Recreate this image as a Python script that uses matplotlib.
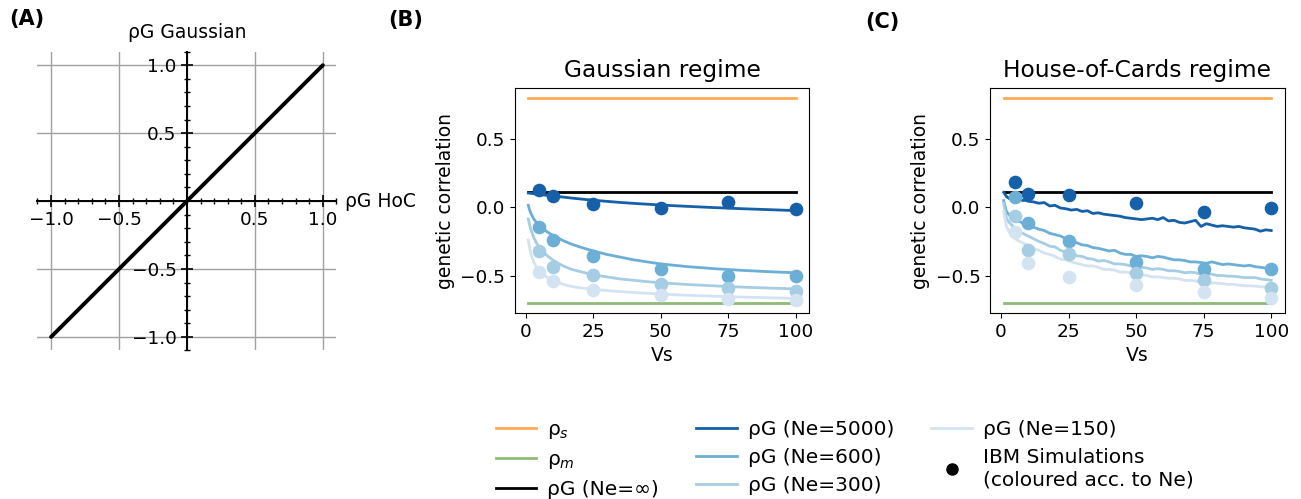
import matplotlib
matplotlib.use("Agg")
import matplotlib.pyplot as plt
from matplotlib.lines import Line2D
from matplotlib.ticker import MultipleLocator, FixedLocator

plt.rcParams['font.family'] = ['DejaVu Sans']

# ---------------- data ----------------
# Panel A
hoc_rho = [-1.0, 1.0]
gauss_rho = [-1.0, 1.0]

# Common
rho_s = 0.8
rho_m = -0.7
rho_inf = 0.11
ne_labels = ['5000', '600', '300', '150']

# IBM simulation points
sim_vs = [5, 10, 25, 50, 75, 100]
gauss_sim = {
    '5000': [0.127, 0.086, 0.025, -0.005, 0.04, -0.012],
    '600': [-0.142, -0.24, -0.355, -0.453, -0.502, -0.502],
    '300': [-0.319, -0.436, -0.493, -0.559, -0.59, -0.615],
    '150': [-0.473, -0.542, -0.603, -0.645, -0.669, -0.676],
}
hoc_sim = {
    '5000': [0.184, 0.098, 0.09, 0.034, -0.032, -0.007],
    '600': [0.073, -0.118, -0.245, -0.4, -0.449, -0.451],
    '300': [-0.061, -0.314, -0.343, -0.478, -0.534, -0.588],
    '150': [-0.184, -0.407, -0.512, -0.571, -0.62, -0.662],
}

# Gaussian regime analytic curves
gauss_vs = [1, 1.5, 2, 3, 4, 5, 6, 7, 8, 10, 12, 14, 17, 20, 25, 30, 35, 40,
            45, 50, 60, 70, 80, 90, 100]
gauss_curve = {
    '5000': [0.105, 0.104, 0.102, 0.1, 0.097, 0.095, 0.093, 0.09, 0.088, 0.083,
             0.079, 0.075, 0.068, 0.062, 0.052, 0.044, 0.036, 0.029, 0.023,
             0.017, 0.007, -0.002, -0.01, -0.017, -0.024],
    '600': [0.015, -0.02, -0.045, -0.085, -0.11, -0.13, -0.15, -0.165, -0.18,
            -0.205, -0.225, -0.245, -0.27, -0.29, -0.32, -0.345, -0.365,
            -0.385, -0.4, -0.415, -0.435, -0.45, -0.462, -0.472, -0.48],
    '300': [-0.085, -0.13, -0.165, -0.22, -0.26, -0.29, -0.315, -0.335, -0.355,
            -0.385, -0.41, -0.43, -0.455, -0.47, -0.495, -0.51, -0.525,
            -0.535, -0.545, -0.553, -0.566, -0.576, -0.585, -0.592, -0.598],
    '150': [-0.24, -0.3, -0.345, -0.4, -0.44, -0.465, -0.485, -0.5, -0.515,
            -0.535, -0.55, -0.565, -0.58, -0.59, -0.6, -0.61, -0.618, -0.625,
            -0.63, -0.636, -0.645, -0.652, -0.658, -0.663, -0.668],
}

# House-of-Cards regime curves (noisy)
hoc_vs = [1, 2, 3, 4, 5, 6, 7, 8, 9, 10] + list(range(12, 101, 2))
hoc_curve = {
    '5000': [0.11, 0.08, 0.065, 0.07, 0.06, 0.055, 0.06, 0.05, 0.052, 0.045,
             0.04, 0.03, 0.035, 0.01, 0.015, -0.005, -0.01, -0.02, -0.015, -0.03,
             -0.025, -0.045, -0.04, -0.05, -0.055, -0.06, -0.065, -0.075, -0.08, -0.085,
             -0.09, -0.085, -0.08, -0.09, -0.075, -0.1, -0.095, -0.11, -0.115, -0.105,
             -0.095, -0.14, -0.12, -0.13, -0.14, -0.135, -0.14, -0.145, -0.14, -0.15,
             -0.155, -0.16, -0.175, -0.165, -0.17],
    '600': [0.05, -0.03, -0.055, -0.07, -0.085, -0.1, -0.105, -0.115, -0.12, -0.13,
            -0.145, -0.16, -0.17, -0.19, -0.2, -0.21, -0.23, -0.25, -0.26, -0.275,
            -0.28, -0.295, -0.3, -0.31, -0.32, -0.315, -0.335, -0.345, -0.345, -0.36,
            -0.355, -0.36, -0.37, -0.36, -0.365, -0.375, -0.385, -0.385, -0.39, -0.4,
            -0.4, -0.405, -0.41, -0.4, -0.41, -0.42, -0.415, -0.42, -0.425, -0.43,
            -0.425, -0.435, -0.44, -0.445, -0.445],
    '300': [0.03, -0.08, -0.11, -0.13, -0.155, -0.17, -0.18, -0.19, -0.2, -0.21,
            -0.23, -0.25, -0.265, -0.285, -0.29, -0.315, -0.33, -0.335, -0.355, -0.36,
            -0.375, -0.38, -0.395, -0.39, -0.4, -0.415, -0.415, -0.42, -0.43, -0.435,
            -0.44, -0.445, -0.455, -0.45, -0.455, -0.465, -0.465, -0.47, -0.48, -0.475,
            -0.48, -0.49, -0.49, -0.49, -0.5, -0.5, -0.505, -0.505, -0.51, -0.515,
            -0.515, -0.515, -0.525, -0.53, -0.535],
    '150': [-0.03, -0.14, -0.18, -0.205, -0.225, -0.24, -0.25, -0.26, -0.27, -0.28,
            -0.3, -0.315, -0.335, -0.345, -0.36, -0.38, -0.385, -0.4, -0.41, -0.42,
            -0.43, -0.43, -0.44, -0.455, -0.455, -0.46, -0.475, -0.475, -0.48, -0.49,
            -0.495, -0.5, -0.51, -0.51, -0.515, -0.52, -0.52, -0.525, -0.535, -0.535,
            -0.54, -0.55, -0.55, -0.555, -0.555, -0.56, -0.565, -0.565, -0.57, -0.575,
            -0.575, -0.578, -0.582, -0.585, -0.59],
}

# ---------------- styles ----------------
c_orange = '#fdaa55'
c_green = '#8fbb76'
blues = {'5000': '#1560a8', '600': '#6baed6', '300': '#a5cde3', '150': '#d3e3f2'}

TICK_FS = 13.3
LABEL_FS = 13.5
TITLE_FS = 16.8
LEG_FS = 14.5

fig = plt.figure(figsize=(13.01, 4.99), dpi=100)

# ---------------- Panel A ----------------
axA = fig.add_axes([0.0288, 0.2976, 0.2298, 0.599])
axA.plot(hoc_rho, gauss_rho, color='black', lw=2.8, solid_capstyle='round', zorder=3)
axA.set_xlim(-1.1, 1.1)
axA.set_ylim(-1.1, 1.1)
axA.spines['left'].set_position(('data', 0))
axA.spines['bottom'].set_position(('data', 0))
axA.spines['right'].set_visible(False)
axA.spines['top'].set_visible(False)
for s in ('left', 'bottom'):
    axA.spines[s].set_linewidth(1.4)
major = [-1.0, -0.5, 0.0, 0.5, 1.0]
axA.xaxis.set_major_locator(FixedLocator(major))
axA.yaxis.set_major_locator(FixedLocator(major))
axA.xaxis.set_minor_locator(MultipleLocator(0.1))
axA.yaxis.set_minor_locator(MultipleLocator(0.1))
labsA = ['\u22121.0', '\u22120.5', '', '0.5', '1.0']
axA.set_xticklabels(labsA, fontsize=TICK_FS)
axA.set_yticklabels(labsA, fontsize=TICK_FS)
axA.tick_params(which='major', direction='inout', length=8, width=1.2)
axA.tick_params(which='minor', direction='inout', length=5, width=1.0)
axA.grid(True, which='major', color='#a0a0a0', lw=1.0)
axA.text(0, 1.24, '\u03c1G Gaussian', ha='center', va='center', fontsize=LABEL_FS)
axA.text(1.165, 0, '\u03c1G HoC', ha='left', va='center', fontsize=LABEL_FS)

# ---------------- Panels B & C ----------------
def regime_panel(ax, curves, cvs, sims, title):
    ax.plot([cvs[0], cvs[-1]], [rho_s, rho_s], color=c_orange, lw=2)
    ax.plot([cvs[0], cvs[-1]], [rho_m, rho_m], color=c_green, lw=2)
    ax.plot([cvs[0], cvs[-1]], [rho_inf, rho_inf], color='black', lw=2)
    for ne in ne_labels:
        ax.plot(cvs, curves[ne], color=blues[ne], lw=2)
    for ne in ne_labels:
        ax.plot(sim_vs, sims[ne], 'o', color=blues[ne], markersize=8.8, zorder=4)
    ax.set_title(title, fontsize=TITLE_FS, pad=8)
    ax.set_xlabel('Vs', fontsize=LABEL_FS)
    ax.set_ylabel('genetic correlation', fontsize=LABEL_FS)
    ax.set_xticks([0, 25, 50, 75, 100])
    ax.set_yticks([-0.5, 0.0, 0.5])
    ax.tick_params(labelsize=TICK_FS)

axB = fig.add_axes([0.3958, 0.3727, 0.2262, 0.4509])
regime_panel(axB, gauss_curve, gauss_vs, gauss_sim, 'Gaussian regime')
axC = fig.add_axes([0.7612, 0.3727, 0.2262, 0.4509])
regime_panel(axC, hoc_curve, hoc_vs, hoc_sim, 'House-of-Cards regime')

# ---------------- panel letters ----------------
fig.text(27 / 1301, 1 - 19 / 499, '(A)', fontsize=15, fontweight='bold', ha='center', va='center')
fig.text(406 / 1301, 1 - 20 / 499, '(B)', fontsize=15, fontweight='bold', ha='center', va='center')
fig.text(882 / 1301, 1 - 22 / 499, '(C)', fontsize=15, fontweight='bold', ha='center', va='center')

# ---------------- legend ----------------
handles = [
    Line2D([], [], color=c_orange, lw=2),
    Line2D([], [], color=c_green, lw=2),
    Line2D([], [], color='black', lw=2),
    Line2D([], [], color=blues['5000'], lw=2),
    Line2D([], [], color=blues['600'], lw=2),
    Line2D([], [], color=blues['300'], lw=2),
    Line2D([], [], color=blues['150'], lw=2),
    Line2D([], [], color='black', marker='o', linestyle='none', markersize=8),
]
labels = [r'$\mathregular{\rho}_s$', r'$\mathregular{\rho}_m$', '\u03c1G (Ne=\u221e)',
          '\u03c1G (Ne=5000)', '\u03c1G (Ne=600)', '\u03c1G (Ne=300)',
          '\u03c1G (Ne=150)', 'IBM Simulations\n(coloured acc. to Ne)']
fig.legend(handles, labels, ncol=3, loc='upper left', bbox_to_anchor=(478 / 1301, 1 - 402 / 499),
           frameon=False, fontsize=LEG_FS, handlelength=2.0, columnspacing=1.85,
           labelspacing=0.45, handletextpad=0.55)

fig.savefig('out.png', dpi=100)
